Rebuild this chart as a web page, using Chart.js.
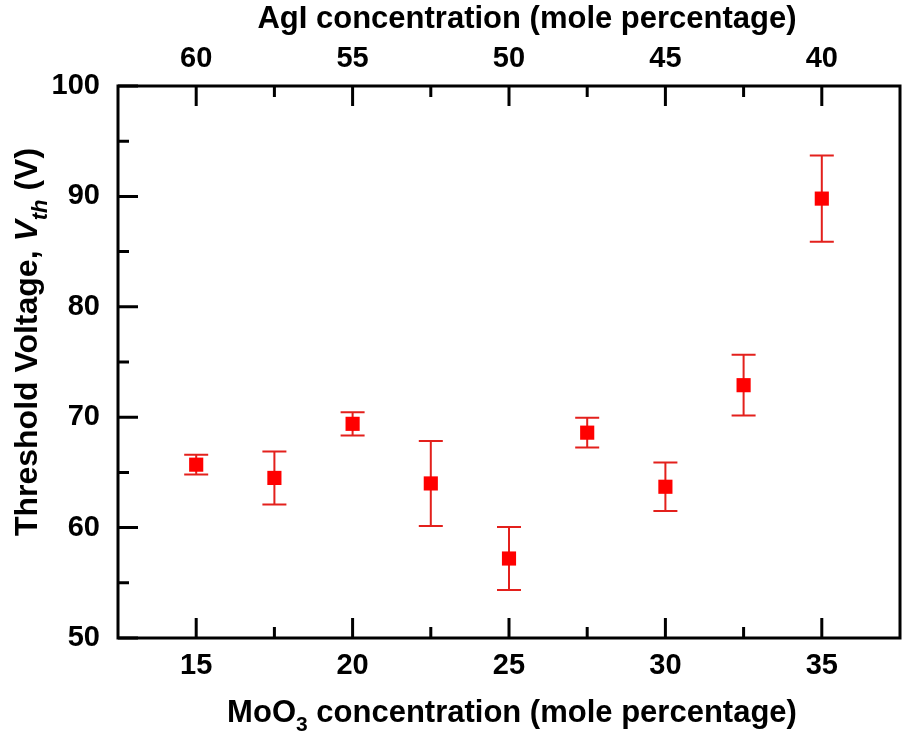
<!DOCTYPE html>
<html>
<head>
<meta charset="utf-8">
<script src="https://cdn.jsdelivr.net/npm/chart.js@4.4.0/dist/chart.umd.min.js"></script>
<style>
  html, body { margin: 0; padding: 0; background: #fff; overflow: hidden; }
  #wrap { width: 910px; height: 734px; }
</style>
</head>
<body>
<div id="wrap"><canvas id="chart" width="910" height="734"></canvas></div>
<script>
// ── Data ──────────────────────────────────────────────
const moo3Pct = [15, 17.5, 20, 22.5, 25, 27.5, 30, 32.5, 35];
const vth     = [65.7, 64.5, 69.4, 64.0, 57.2, 68.6, 63.7, 72.9, 89.8];
const vthErr  = [0.9, 2.4, 1.05, 3.85, 2.85, 1.35, 2.2, 2.75, 3.9];

// ── Axis ticks ────────────────────────────────────────
const xMajor = [15, 20, 25, 30, 35];
const xMinor = [17.5, 22.5, 27.5, 32.5];
const yMajor = [50, 60, 70, 80, 90, 100];
const yMinor = [55, 65, 75, 85, 95];
const AGI_PLUS_MOO3 = 75;   // AgI % = 75 - MoO3 %

const FONT = "'Liberation Sans', Arial, sans-serif";
const tickFont = { family: FONT, size: 29, weight: 'bold' };

// ── Error bars (drawn under the markers) ─────────────
const errorBars = {
  id: 'errorBars',
  beforeDatasetsDraw(chart) {
    const { ctx, scales: { x, y } } = chart;
    ctx.save();
    ctx.strokeStyle = '#e3201c';
    ctx.lineWidth = 2;
    moo3Pct.forEach((v, i) => {
      const px  = x.getPixelForValue(v);
      const top = y.getPixelForValue(vth[i] + vthErr[i]);
      const bot = y.getPixelForValue(vth[i] - vthErr[i]);
      ctx.beginPath();
      ctx.moveTo(px, top);      ctx.lineTo(px, bot);
      ctx.moveTo(px - 12, top); ctx.lineTo(px + 12, top);
      ctx.moveTo(px - 12, bot); ctx.lineTo(px + 12, bot);
      ctx.stroke();
    });
    ctx.restore();
  }
};

// ── Frame + inward ticks ─────────────────────────────
const frame = {
  id: 'frame',
  afterDatasetsDraw(chart) {
    const { ctx, chartArea: a, scales: { x, y } } = chart;
    ctx.save();
    ctx.strokeStyle = '#000';
    ctx.lineWidth = 3;
    ctx.strokeRect(a.left, a.top, a.right - a.left, a.bottom - a.top);
    ctx.beginPath();
    const xt = (v, len) => {
      const px = x.getPixelForValue(v);
      ctx.moveTo(px, a.bottom); ctx.lineTo(px, a.bottom - len);
      ctx.moveTo(px, a.top);    ctx.lineTo(px, a.top + len);
    };
    const yt = (v, len) => {
      const py = y.getPixelForValue(v);
      ctx.moveTo(a.left, py); ctx.lineTo(a.left + len, py);
    };
    xMajor.forEach(v => xt(v, 20));
    xMinor.forEach(v => xt(v, 11));
    yMajor.forEach(v => yt(v, 20));
    yMinor.forEach(v => yt(v, 11));
    ctx.stroke();
    ctx.restore();
  }
};

// ── Axis titles with sub/italic parts ────────────────
function richFont(p, size) {
  return `${p.italic ? 'italic ' : ''}bold ${p.sub ? Math.round(size * 0.68) : size}px ${FONT}`;
}
function drawRich(ctx, parts, size) {
  let w = 0;
  parts.forEach(p => { ctx.font = richFont(p, size); w += ctx.measureText(p.text).width; });
  let cx = -w / 2;
  parts.forEach(p => {
    ctx.font = richFont(p, size);
    ctx.fillText(p.text, cx, p.sub ? size * 0.3 : 0);
    cx += ctx.measureText(p.text).width;
  });
}
const titles = {
  id: 'titles',
  afterDraw(chart) {
    const { ctx } = chart;
    ctx.save();
    ctx.fillStyle = '#000';
    ctx.textBaseline = 'alphabetic';
    ctx.textAlign = 'left';

    ctx.save();
    ctx.translate(527, 28);
    drawRich(ctx, [{ text: 'AgI concentration (mole percentage)' }], 31);
    ctx.restore();

    ctx.save();
    ctx.translate(512, 722);
    drawRich(ctx, [{ text: 'MoO' }, { text: '3', sub: true }, { text: ' concentration (mole percentage)' }], 31);
    ctx.restore();

    ctx.save();
    ctx.translate(37, 342);
    ctx.rotate(-Math.PI / 2);
    drawRich(ctx, [
      { text: 'Threshold Voltage, ' },
      { text: 'V', italic: true },
      { text: 'th', italic: true, sub: true },
      { text: ' (V)' }
    ], 32);
    ctx.restore();

    ctx.restore();
  }
};

// ── Chart ─────────────────────────────────────────────
const ctx = document.getElementById('chart').getContext('2d');
new Chart(ctx, {
  type: 'scatter',
  data: {
    datasets: [{
      label: 'Vth',
      data: moo3Pct.map((x, i) => ({ x, y: vth[i] })),
      pointStyle: 'rect',
      pointRadius: 10,
      pointHoverRadius: 10,
      backgroundColor: '#ff0000',
      borderWidth: 0,
    }],
  },
  options: {
    responsive: false,
    animation: false,
    layout: { padding: { left: 0, right: 4, top: 0, bottom: 0 } },
    plugins: { legend: { display: false }, tooltip: { enabled: false } },
    scales: {
      x: {
        type: 'linear', position: 'bottom', min: 12.5, max: 37.5,
        afterBuildTicks: s => { s.ticks = xMajor.map(v => ({ value: v })); },
        afterFit: s => { s.height = 96; },
        grid: { display: false }, border: { display: false },
        ticks: { color: '#000', font: tickFont, padding: 3, maxRotation: 0 },
      },
      x2: {
        type: 'linear', position: 'top', min: 12.5, max: 37.5,
        afterBuildTicks: s => { s.ticks = xMajor.map(v => ({ value: v })); },
        afterFit: s => { s.height = 86; },
        grid: { display: false }, border: { display: false },
        ticks: { color: '#000', font: tickFont, padding: 2, maxRotation: 0,
                 callback: v => AGI_PLUS_MOO3 - v },
      },
      y: {
        type: 'linear', min: 50, max: 100,
        afterBuildTicks: s => { s.ticks = yMajor.map(v => ({ value: v })); },
        afterFit: s => { s.width = 118; },
        grid: { display: false }, border: { display: false },
        ticks: { color: '#000', font: tickFont, padding: 10 },
      },
    },
  },
  plugins: [errorBars, frame, titles],
});
</script>
</body>
</html>
